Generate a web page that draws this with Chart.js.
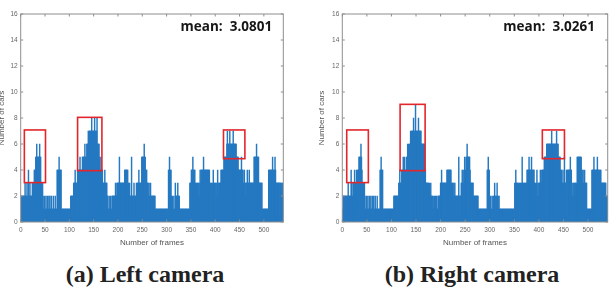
<!DOCTYPE html>
<html><head><meta charset="utf-8">
<script src="https://cdn.jsdelivr.net/npm/chart.js@4/dist/chart.umd.min.js"></script>
<style>
html,body{margin:0;padding:0;background:#fff;width:614px;height:291px;overflow:hidden;position:relative;}
#c1{position:absolute;left:-3px;top:0;}
#c2{position:absolute;left:310px;top:0;}
.cap{position:absolute;top:262px;line-height:1;font-family:"Liberation Serif","Times New Roman",serif;font-weight:bold;font-size:24px;color:#222;white-space:nowrap;transform:translateX(-50%);}
</style></head>
<body>
<canvas id="c1" width="300" height="250"></canvas>
<canvas id="c2" width="304" height="250"></canvas>
<div class="cap" style="left:145px">(a) Left camera</div>
<div class="cap" style="left:472px">(b) Right camera</div>
<script>
// ---- data (number of cars per frame, frames 1..540) ----
const leftCars = [
2,2,2,2,2,2,2,2,3,2, 2,2,3,2,2,4,2,2,3,2, 2,2,2,3,3,3,3,4,4,4, 5,5,6,5,5,5,5,5,6,5,
5,3,3,3,3,2,1,1,2,1, 1,2,1,1,2,1,1,2,1,2, 1,1,2,1,1,1,2,1,1,1, 2,1,1,1,4,4,4,4,5,4,
4,4,4,1,1,1,1,1,1,1, 1,1,1,1,1,1,1,1,1,1, 1,1,2,2,2,2,2,2,3,3, 3,4,3,3,3,3,4,4,4,4,
4,5,4,4,4,4,5,5,5,5, 5,6,5,5,5,6,6,6,7,6, 7,7,7,7,7,8,7,7,7,7, 7,8,7,7,7,7,8,6,6,6,
6,5,4,4,5,4,4,4,3,3, 3,3,4,3,3,3,3,2,2,1, 1,2,1,1,2,1,1,2,2,2, 2,2,2,2,3,2,2,3,3,3,
3,3,5,3,3,3,3,3,3,3, 3,3,3,4,4,4,4,4,4,4, 3,3,2,3,2,2,2,5,2,2, 2,2,3,2,2,2,2,3,2,3,
3,3,4,3,3,3,3,3,5,5, 5,5,5,6,5,5,4,4,4,3, 3,3,2,3,2,2,3,2,2,2, 2,2,2,2,2,2,1,1,1,1,
1,1,1,1,1,1,1,1,1,1, 1,1,1,1,1,1,1,1,1,1, 1,1,1,4,4,5,4,4,4,2, 1,2,1,1,2,1,1,3,2,2,
2,2,3,2,2,2,1,1,1,1, 1,1,1,1,1,1,1,1,1,1, 1,1,1,1,1,1,1,3,3,3, 4,4,4,5,4,4,4,4,3,3,
2,3,2,3,3,2,3,2,4,3, 4,4,4,4,4,5,4,4,4,4, 4,4,4,4,4,4,4,4,3,3, 2,3,2,3,2,4,3,2,3,3,
2,3,2,3,4,3,2,3,3,3, 3,4,4,4,4,4,4,5,5,5, 5,5,5,6,7,6,6,6,6,7, 6,6,6,6,6,6,7,6,6,6,
6,6,6,5,5,5,5,4,4,4, 4,4,4,5,4,4,4,3,3,4, 3,2,3,3,3,4,3,3,3,4, 3,3,3,3,3,3,3,3,3,5,
5,5,5,5,6,5,5,5,5,3, 3,3,3,3,3,3,1,1,1,1, 1,1,1,1,1,1,1,1,1,4, 4,4,4,4,4,4,4,5,4,4,
4,4,5,4,3,3,3,3,3,3, 3,3,3,3,3,2,3,3,2,2
];
const rightCars = [
1,2,2,2,2,2,2,2,2,2, 2,3,2,2,2,2,2,4,3,2, 2,3,3,3,4,3,3,3,4,3, 4,4,4,5,5,5,5,6,5,4,
3,3,3,3,3,2,1,1,2,1, 1,2,1,1,2,1,1,2,1,1, 2,1,1,2,1,1,2,1,1,1, 2,1,1,1,1,1,4,4,5,4,
4,4,1,1,1,1,1,1,1,1, 1,1,1,1,1,1,1,1,1,1, 1,1,1,1,2,2,2,2,2,2, 2,2,2,2,3,3,4,3,3,3,
4,4,4,5,4,4,5,4,4,4, 5,5,6,5,6,5,6,6,7,6, 7,7,7,7,8,7,7,7,9,7, 7,7,7,7,8,7,7,7,7,7,
6,6,6,6,6,6,6,4,4,3, 3,3,3,3,3,2,3,2,2,3, 2,2,2,1,2,1,1,2,1,2, 1,2,1,1,2,2,2,2,2,3,
3,4,3,3,3,3,3,3,3,3, 3,3,4,4,4,4,4,4,4,4, 4,3,2,3,3,2,3,2,3,2, 2,2,2,2,2,2,5,2,2,2,
2,3,3,4,3,4,3,3,5,3, 4,5,5,6,5,5,5,5,5,4, 3,3,3,3,3,3,2,2,2,2, 2,2,2,2,2,2,1,1,1,1,
1,1,1,1,1,1,1,1,1,1, 1,1,1,1,4,4,5,4,4,1, 1,2,1,1,2,1,1,2,2,3, 2,2,1,2,3,2,2,1,2,1,
1,1,1,1,1,1,1,1,1,1, 1,1,1,1,1,1,1,1,1,1, 1,1,1,1,1,1,1,1,1,1, 3,3,4,3,3,3,3,2,3,2,
3,2,3,2,3,5,3,2,3,3, 3,2,3,3,3,4,4,4,4,5, 4,4,4,4,5,4,4,4,4,4, 3,2,3,2,3,4,2,3,2,3,
3,3,4,3,3,4,4,4,4,4, 5,5,5,5,5,6,6,6,6,6, 6,6,6,6,6,7,6,6,6,6, 6,6,6,6,6,7,6,6,6,5,
5,5,5,4,4,4,3,3,4,3, 3,5,3,3,3,4,3,4,4,4, 4,4,4,5,4,4,2,2,3,2, 3,2,3,3,3,2,3,5,5,5,
5,5,5,5,5,5,4,4,3,4, 3,3,4,3,3,3,3,1,1,1, 1,1,1,1,1,1,1,4,4,4, 4,5,4,4,4,4,4,4,5,4,
4,4,4,3,4,4,3,3,3,3, 3,3,3,3,3,3,2,2,2,2
];
const frames = leftCars.map((_, i) => i + 1);
const xTicks = [0, 50, 100, 150, 200, 250, 300, 350, 400, 450, 500];
const yTicks = [0, 2, 4, 6, 8, 10, 12, 14, 16];
// red highlight boxes: [frameStart, frameEnd, carsLow, carsHigh]
const leftBoxes = [[7.5, 51, 3.03, 7.08], [117, 167, 3.95, 8.05], [417, 461, 4.87, 7.08]];
const rightBoxes = [[9, 53, 3.03, 7.08], [117.6, 168.5, 3.95, 9.05], [407, 452, 4.87, 7.08]];
const leftMean = 'mean:  3.0801';
const rightMean = 'mean:  3.0261';
const meanAnchorLeft = [517, 15.0];
const meanAnchorRight = [514, 15.0];

Chart.defaults.font.family = '"Liberation Sans", Arial, sans-serif';

const decor = {
  id: 'decor',
  afterDatasetsDraw(chart, args, o) {
    const {ctx, chartArea: a, scales: {x, y}} = chart;
    ctx.save();
    ctx.strokeStyle = '#8e8e8e';
    ctx.lineWidth = 1;
    ctx.strokeRect(a.left, a.top, a.right - a.left, a.bottom - a.top);
    const tl = 2.5;
    ctx.beginPath();
    xTicks.forEach(v => {
      const px = x.getPixelForValue(v);
      ctx.moveTo(px, a.bottom); ctx.lineTo(px, a.bottom - tl);
      ctx.moveTo(px, a.top); ctx.lineTo(px, a.top + tl);
    });
    yTicks.forEach(v => {
      const py = y.getPixelForValue(v);
      ctx.moveTo(a.left, py); ctx.lineTo(a.left + tl, py);
      ctx.moveTo(a.right, py); ctx.lineTo(a.right - tl, py);
    });
    ctx.stroke();
    ctx.strokeStyle = '#e3262c';
    ctx.lineWidth = 1.6;
    o.boxes.forEach(b => {
      const x0 = x.getPixelForValue(b[0]), x1 = x.getPixelForValue(b[1]);
      const y0 = y.getPixelForValue(b[3]), y1 = y.getPixelForValue(b[2]);
      ctx.strokeRect(x0, y0, x1 - x0, y1 - y0);
    });
    ctx.fillStyle = '#161616';
    ctx.font = 'bold 13.5px "Open Sans", sans-serif';
    ctx.textAlign = 'right';
    ctx.textBaseline = 'middle';
    ctx.fillText(o.label, x.getPixelForValue(o.at[0]), y.getPixelForValue(o.at[1]));
    ctx.restore();
  }
};

function makeChart(id, values, boxes, label, at, padL, padR, yW) {
  return new Chart(document.getElementById(id), {
    type: 'bar',
    data: {
      datasets: [{
        data: frames.map((f, i) => ({x: f, y: values[i]})),
        backgroundColor: '#2579c1',
        borderWidth: 0,
        barThickness: 0.8
      }]
    },
    options: {
      responsive: false, animation: false, devicePixelRatio: 1,
      layout: {padding: {left: padL, right: padR, top: 14, bottom: 2}},
      plugins: {legend: {display: false}, tooltip: {enabled: false}, decor: {boxes, label, at}},
      scales: {
        x: {
          type: 'linear', min: 0, max: 540, offset: false,
          ticks: {stepSize: 50, includeBounds: false, maxRotation: 0, autoSkip: false, padding: 4,
                  font: {size: 6.5}, color: '#666'},
          grid: {display: false, drawTicks: false}, border: {display: false},
          title: {display: true, text: 'Number of frames', font: {size: 8}, color: '#555', padding: 0},
          afterFit(s) { s.height = 26; }
        },
        y: {
          min: 0, max: 16,
          ticks: {stepSize: 2, includeBounds: false, padding: 3, font: {size: 6.5}, color: '#666'},
          grid: {display: false, drawTicks: false}, border: {display: false},
          title: {display: true, text: 'Number of cars', font: {size: 8}, color: '#555', padding: 0},
          afterFit(s) { s.width = yW; }
        }
      }
    },
    plugins: [decor]
  });
}

makeChart('c1', leftCars, leftBoxes, leftMean, meanAnchorLeft, 0, 13.7, 23.7);
makeChart('c2', rightCars, rightBoxes, rightMean, meanAnchorRight, 7, 6.3, 25.3);
</script>
</body></html>
